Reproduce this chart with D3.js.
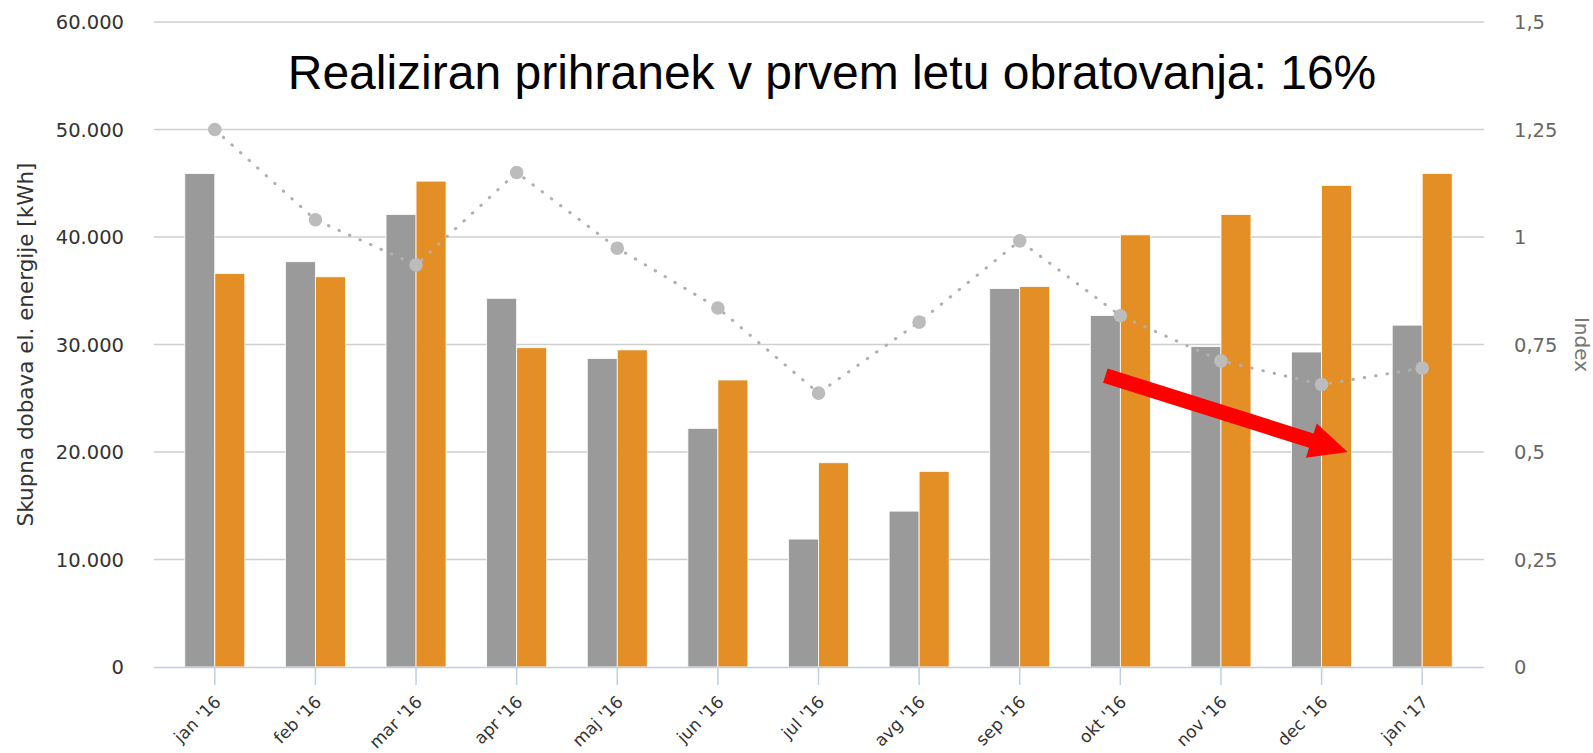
<!DOCTYPE html>
<html>
<head>
<meta charset="utf-8">
<script src="https://cdnjs.cloudflare.com/ajax/libs/d3/7.8.5/d3.min.js"></script>
<style>
    body { margin: 0; background: #fff; }
    svg { display: block; }
    text { font-family: "DejaVu Sans", Verdana, sans-serif; }
</style>
</head>
<body>
<svg id="chart" width="1593" height="753"></svg>
<script>
// data
var months = ["jan '16", "feb '16", "mar '16", "apr '16", "maj '16", "jun '16", "jul '16",
    "avg '16", "sep '16", "okt '16", "nov '16", "dec '16", "jan '17"];
var dobavaNovo = [45900, 37700, 42100, 34300, 28700, 22200, 11900, 14500, 35200, 32700, 29800, 29300, 31800];
var dobavaStaro = [36600, 36300, 45200, 29700, 29500, 26700, 19000, 18200, 35400, 40200, 42100, 44800, 45900];
var indexValues = [1.25, 1.04, 0.935, 1.15, 0.974, 0.835, 0.637, 0.802, 0.991, 0.817, 0.712, 0.657, 0.695];
var leftTicks = [0, 10000, 20000, 30000, 40000, 50000, 60000];
var rightTicks = [0, 0.25, 0.5, 0.75, 1, 1.25, 1.5];
var naslov = "Realiziran prihranek v prvem letu obratovanja: 16%";

var svg = d3.select("#chart");

var plotLeft = 154, plotRight = 1484, plotTop = 22, plotBottom = 667;

var x0 = d3.scaleBand()
    .domain(months)
    .range([164.5, 1472.5]);

var x1 = d3.scaleBand()
    .domain(["novo", "staro"])
    .range([-30, 30]);

var yLeft = d3.scaleLinear().domain([0, 60000]).range([plotBottom, plotTop]);
var yRight = d3.scaleLinear().domain([0, 1.5]).range([plotBottom, plotTop]);

function cx(m) { return x0(m) + x0.bandwidth() / 2; }

var fmtLeft = function (v) { return d3.format(",")(v).replace(/,/g, "."); };
var fmtRight = function (v) { return String(v).replace(".", ","); };

// grid
svg.append("g").selectAll("line")
    .data(leftTicks.slice(1))
    .enter().append("line")
    .attr("x1", plotLeft).attr("x2", plotRight)
    .attr("y1", function (d) { return yLeft(d); })
    .attr("y2", function (d) { return yLeft(d); })
    .attr("stroke", "#cfcfcf")
    .attr("stroke-width", 1.5);

// left labels
svg.append("g").selectAll("text")
    .data(leftTicks)
    .enter().append("text")
    .attr("x", 124)
    .attr("y", function (d) { return yLeft(d); })
    .attr("dy", "0.36em")
    .attr("text-anchor", "end")
    .attr("fill", "#333")
    .style("font-size", "19.5px")
    .text(fmtLeft);

// right labels
svg.append("g").selectAll("text")
    .data(rightTicks)
    .enter().append("text")
    .attr("x", 1514)
    .attr("y", function (d) { return yRight(d); })
    .attr("dy", "0.36em")
    .attr("fill", "#666")
    .style("font-size", "19.5px")
    .text(fmtRight);

// axis titles
svg.append("text")
    .attr("transform", "translate(33," + ((plotTop + plotBottom) / 2) + ") rotate(-90)")
    .attr("text-anchor", "middle")
    .attr("fill", "#333")
    .style("font-size", "21.5px")
    .text("Skupna dobava el. energije [kWh]");

svg.append("text")
    .attr("transform", "translate(1575," + ((plotTop + plotBottom) / 2) + ") rotate(90)")
    .attr("text-anchor", "middle")
    .attr("fill", "#777")
    .style("font-size", "20px")
    .text("Index");

// bars
var groups = svg.append("g").selectAll("g")
    .data(months)
    .enter().append("g");

groups.append("rect")
    .attr("x", function (d) { return cx(d) + x1("novo"); })
    .attr("y", function (d, i) { return yLeft(dobavaNovo[i]); })
    .attr("width", x1.bandwidth())
    .attr("height", function (d, i) { return plotBottom - yLeft(dobavaNovo[i]); })
    .attr("fill", "#9a9a9a")
    .attr("stroke", "#fff")
    .attr("stroke-width", 0.8);

groups.append("rect")
    .attr("x", function (d) { return cx(d) + x1("staro"); })
    .attr("y", function (d, i) { return yLeft(dobavaStaro[i]); })
    .attr("width", x1.bandwidth())
    .attr("height", function (d, i) { return plotBottom - yLeft(dobavaStaro[i]); })
    .attr("fill", "#e38f26")
    .attr("stroke", "#fff")
    .attr("stroke-width", 0.8);

// x axis line + ticks
svg.append("line")
    .attr("x1", plotLeft).attr("x2", plotRight)
    .attr("y1", plotBottom + 0.5).attr("y2", plotBottom + 0.5)
    .attr("stroke", "#c0d0e0")
    .attr("stroke-width", 1.5);

svg.append("g").selectAll("line")
    .data(months)
    .enter().append("line")
    .attr("x1", function (d) { return cx(d); })
    .attr("x2", function (d) { return cx(d); })
    .attr("y1", plotBottom)
    .attr("y2", plotBottom + 18)
    .attr("stroke", "#c0d0e0")
    .attr("stroke-width", 1.5);

svg.append("g").selectAll("text")
    .data(months)
    .enter().append("text")
    .attr("transform", function (d) { return "translate(" + (cx(d) + 7) + "," + (plotBottom + 36) + ") rotate(-45)"; })
    .attr("text-anchor", "end")
    .attr("fill", "#333")
    .style("font-size", "17px")
    .text(function (d) { return d; });

// index line
var line = d3.line()
    .x(function (d, i) { return cx(months[i]); })
    .y(function (d) { return yRight(d); });

svg.append("path")
    .datum(indexValues)
    .attr("d", line)
    .attr("fill", "none")
    .attr("stroke", "#b0b0b0")
    .attr("stroke-width", 3)
    .attr("stroke-linecap", "round")
    .attr("stroke-dasharray", "0.5,11");

svg.append("g").selectAll("circle")
    .data(indexValues)
    .enter().append("circle")
    .attr("cx", function (d, i) { return cx(months[i]); })
    .attr("cy", function (d) { return yRight(d); })
    .attr("r", 6.8)
    .attr("fill", "#bcbcbc");

// title
svg.append("text")
    .attr("x", 832)
    .attr("y", 89)
    .attr("text-anchor", "middle")
    .attr("fill", "#000")
    .style("font-family", "'Liberation Sans', Arial, sans-serif")
    .style("font-size", "48px")
    .text(naslov);

// red arrow (annotation)
function arrow(x1p, y1p, x2p, y2p) {
    var dx = x2p - x1p, dy = y2p - y1p;
    var len = Math.sqrt(dx * dx + dy * dy);
    var ux = dx / len, uy = dy / len, nx = -uy, ny = ux;
    var headLen = 38, headW = 18, shaftW = 7.5;
    var bx = x2p - ux * headLen, by = y2p - uy * headLen;
    var pts = [
        [x1p + nx * shaftW, y1p + ny * shaftW],
        [bx + nx * shaftW, by + ny * shaftW],
        [bx + nx * headW, by + ny * headW],
        [x2p, y2p],
        [bx - nx * headW, by - ny * headW],
        [bx - nx * shaftW, by - ny * shaftW],
        [x1p - nx * shaftW, y1p - ny * shaftW]
    ];
    return "M" + pts.map(function (p) { return p.join(","); }).join("L") + "Z";
}

svg.append("path")
    .attr("d", arrow(cx("okt '16") - 15, yLeft(27100), cx("dec '16") + 26, yLeft(20000)))
    .attr("fill", "#ff0000");
</script>
</body>
</html>
